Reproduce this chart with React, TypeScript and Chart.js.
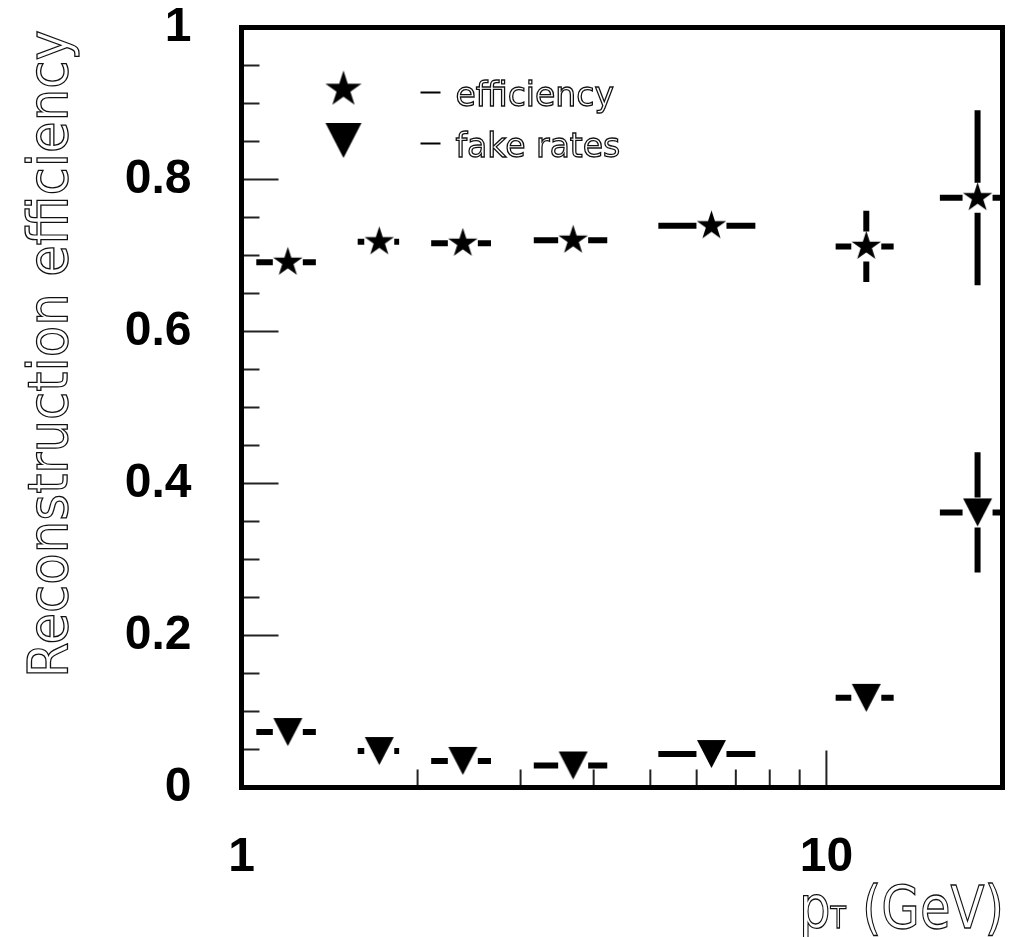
import React, { useEffect, useRef } from "react";
import { Chart, registerables } from "chart.js";

Chart.register(...registerables);

// ---- data ----
const ptCenters = [1.2, 1.72, 2.39, 3.69, 6.36, 11.7, 18.13];
const ptHalfWidths = [0.14, 0.14, 0.28, 0.53, 1.2, 1.33, 2.5];
const efficiency = [0.691, 0.718, 0.716, 0.72, 0.739, 0.712, 0.776];
const efficiencyErr = [0.01, 0.012, 0.012, 0.012, 0.015, 0.047, 0.115];
const fakeRates = [0.073, 0.048, 0.035, 0.029, 0.044, 0.118, 0.362];
const fakeRatesErr = [0.008, 0.007, 0.006, 0.006, 0.008, 0.015, 0.079];

const xLabelValues = [1, 10];
const xMinorTickValues = [2, 3, 4, 5, 6, 7, 8, 9];
const xMajorTickValues = [10];
const yLabelValues = [0, 0.2, 0.4, 0.6, 0.8, 1];
const yLabelTexts = ["0", "0.2", "0.4", "0.6", "0.8", "1"];
const yMinorTickValues = [
  0.05, 0.1, 0.15, 0.25, 0.3, 0.35, 0.45, 0.5, 0.55, 0.65, 0.7, 0.75, 0.85, 0.9, 0.95,
];
const legendLabels = ["efficiency", "fake rates"];
const yTitle = "Reconstruction efficiency";
const xTitleMain = "p";
const xTitleSub = "T";
const xTitleUnit = " (GeV)";

const TICK_FONT = "'Liberation Sans', Arial, Helvetica, sans-serif";
const TITLE_FONT = "'DejaVu Sans', Verdana, sans-serif";
const OUTLINE_COLOR = "#111";
const OUTLINE_WIDTH = 1.3;

function makeStar(R: number): HTMLCanvasElement {
  const size = Math.ceil(2 * R + 2);
  const c = document.createElement("canvas");
  c.width = size;
  c.height = size;
  const g = c.getContext("2d")!;
  const cx = size / 2;
  const cy = size / 2;
  const r = R * 0.382;
  g.beginPath();
  for (let k = 0; k < 10; k++) {
    const a = -Math.PI / 2 + (k * Math.PI) / 5;
    const rr = k % 2 === 0 ? R : r;
    g.lineTo(cx + rr * Math.cos(a), cy + rr * Math.sin(a));
  }
  g.closePath();
  g.fillStyle = "#000";
  g.fill();
  return c;
}

function makeTriangle(w: number, h: number): HTMLCanvasElement {
  const c = document.createElement("canvas");
  c.width = Math.ceil(w + 2);
  c.height = Math.ceil(h + 2);
  const g = c.getContext("2d")!;
  const ox = (c.width - w) / 2;
  const oy = (c.height - h) / 2;
  g.beginPath();
  g.moveTo(ox, oy);
  g.lineTo(ox + w, oy);
  g.lineTo(ox + w / 2, oy + h);
  g.closePath();
  g.fillStyle = "#000";
  g.fill();
  return c;
}

const GAP = 15;

const errorBarPlugin = {
  id: "errorBars",
  afterDatasetsDraw(chart: any) {
    const { ctx, chartArea: a } = chart;
    const x = chart.scales.x;
    const y = chart.scales.y;
    ctx.save();
    ctx.beginPath();
    ctx.rect(a.left, a.top, a.right - a.left, a.bottom - a.top);
    ctx.clip();
    ctx.strokeStyle = "#000";
    ctx.lineWidth = 6;
    ctx.lineCap = "butt";
    const seg = (x1: number, y1: number, x2: number, y2: number) => {
      ctx.beginPath();
      ctx.moveTo(x1, y1);
      ctx.lineTo(x2, y2);
      ctx.stroke();
    };
    chart.data.datasets.forEach((ds: any) => {
      ds.data.forEach((p: any, i: number) => {
        const px = x.getPixelForValue(p.x);
        const py = y.getPixelForValue(p.y);
        const xl = x.getPixelForValue(p.x - ds.xErr[i]);
        const xh = x.getPixelForValue(p.x + ds.xErr[i]);
        const yt = y.getPixelForValue(p.y + ds.yErr[i]);
        const yb = y.getPixelForValue(p.y - ds.yErr[i]);
        if (xl < px - GAP) seg(xl, py, px - GAP, py);
        if (xh > px + GAP) seg(px + GAP, py, xh, py);
        if (yt < py - GAP) seg(px, yt, px, py - GAP);
        if (yb > py + GAP) seg(px, py + GAP, px, yb);
      });
    });
    ctx.restore();
  },
};

const makeDecorPlugin = (legendIcons: HTMLCanvasElement[]) => ({
  id: "decor",
  afterDraw(chart: any) {
    const { ctx, chartArea: a } = chart;
    const x = chart.scales.x;
    const y = chart.scales.y;
    ctx.save();
    // inward ticks
    ctx.strokeStyle = "#222";
    ctx.lineWidth = 2;
    const hl = (yy: number, len: number) => {
      ctx.beginPath();
      ctx.moveTo(a.left, yy);
      ctx.lineTo(a.left + len, yy);
      ctx.stroke();
    };
    const vl = (xx: number, len: number) => {
      ctx.beginPath();
      ctx.moveTo(xx, a.bottom);
      ctx.lineTo(xx, a.bottom - len);
      ctx.stroke();
    };
    yMinorTickValues.forEach((v) => hl(y.getPixelForValue(v), 18));
    yLabelValues.forEach((v) => hl(y.getPixelForValue(v), 37));
    xMinorTickValues.forEach((v) => vl(x.getPixelForValue(v), 18));
    xMajorTickValues.forEach((v) => vl(x.getPixelForValue(v), 37));

    // frame
    ctx.strokeStyle = "#000";
    ctx.lineWidth = 5;
    ctx.lineJoin = "miter";
    ctx.strokeRect(a.left, a.top, a.right - a.left, a.bottom - a.top);

    // legend
    const lx = a.left + 102;
    const rows = [a.top + 62, a.top + 113];
    legendIcons.forEach((icon, i) => {
      ctx.drawImage(icon, lx - icon.width / 2, rows[i] - icon.height / 2);
    });
    const dashes = [a.top + 65, a.top + 116];
    ctx.strokeStyle = "#000";
    ctx.lineWidth = 2;
    dashes.forEach((dy) => {
      ctx.beginPath();
      ctx.moveTo(a.left + 179, dy);
      ctx.lineTo(a.left + 199, dy);
      ctx.stroke();
    });
    ctx.font = `33px ${TITLE_FONT}`;
    ctx.strokeStyle = OUTLINE_COLOR;
    ctx.lineWidth = OUTLINE_WIDTH;
    ctx.textAlign = "left";
    ctx.textBaseline = "alphabetic";
    const baselines = [a.top + 78, a.top + 129];
    legendLabels.forEach((t, i) => {
      ctx.strokeText(t, a.left + 214, baselines[i]);
    });

    // y title
    ctx.save();
    ctx.font = `55px ${TITLE_FONT}`;
    const wy = ctx.measureText(yTitle).width;
    const targetY = 648;
    ctx.translate(67, 354);
    ctx.rotate(-Math.PI / 2);
    ctx.scale(targetY / wy, 1);
    ctx.textAlign = "center";
    ctx.strokeStyle = OUTLINE_COLOR;
    ctx.lineWidth = OUTLINE_WIDTH;
    ctx.strokeText(yTitle, 0, 0);
    ctx.restore();

    // x title
    ctx.save();
    const mainFont = `59px ${TITLE_FONT}`;
    const subFont = `30px ${TITLE_FONT}`;
    ctx.font = mainFont;
    const wp = ctx.measureText(xTitleMain).width;
    const wu = ctx.measureText(xTitleUnit).width;
    ctx.font = subFont;
    const wt = ctx.measureText(xTitleSub).width;
    const total = wp + wt + wu;
    const targetX = 205;
    const sx = targetX / total;
    const right = 1004;
    const base = 928;
    ctx.translate(right - targetX, base);
    ctx.scale(sx, 1);
    ctx.strokeStyle = OUTLINE_COLOR;
    ctx.lineWidth = OUTLINE_WIDTH;
    ctx.textAlign = "left";
    ctx.font = mainFont;
    ctx.strokeText(xTitleMain, 0, 0);
    ctx.font = subFont;
    ctx.strokeText(xTitleSub, wp, 0);
    ctx.font = mainFont;
    ctx.strokeText(xTitleUnit, wp + wt, 0);
    ctx.restore();

    ctx.restore();
  },
});

export default function App() {
  const ref = useRef<HTMLCanvasElement | null>(null);
  useEffect(() => {
    const canvas = ref.current;
    if (!canvas) return;
    const star = makeStar(15.5);
    const tri = makeTriangle(29, 28);
    const legendStar = makeStar(19);
    const legendTri = makeTriangle(36, 35);
    const tickFont = { family: TICK_FONT, size: 48, weight: "bold" as const };
    const chart = new Chart(canvas, {
      type: "scatter",
      data: {
        datasets: [
          {
            label: legendLabels[0],
            data: ptCenters.map((xv, i) => ({ x: xv, y: efficiency[i] })),
            xErr: ptHalfWidths,
            yErr: efficiencyErr,
            pointStyle: star,
            pointRadius: 15,
            showLine: false,
          } as any,
          {
            label: legendLabels[1],
            data: ptCenters.map((xv, i) => ({ x: xv, y: fakeRates[i] })),
            xErr: ptHalfWidths,
            yErr: fakeRatesErr,
            pointStyle: tri,
            pointRadius: 15,
            showLine: false,
          } as any,
        ],
      },
      options: {
        responsive: false,
        animation: false,
        devicePixelRatio: 1,
        layout: { padding: { top: 27.5, right: 17.5, left: 0, bottom: 0 } },
        plugins: { legend: { display: false }, tooltip: { enabled: false } },
        scales: {
          x: {
            type: "logarithmic",
            min: 1,
            max: 20,
            grid: { display: false, drawTicks: false },
            border: { display: false },
            afterBuildTicks: (s: any) => {
              s.ticks = xLabelValues.map((v) => ({ value: v }));
            },
            afterFit: (s: any) => {
              s.height = 149.5;
              s.paddingLeft = 0;
              s.paddingRight = 0;
            },
            ticks: {
              autoSkip: false,
              maxRotation: 0,
              minRotation: 0,
              padding: 41,
              color: "#000",
              font: tickFont,
              callback: (v: any) => String(v),
            },
          },
          y: {
            type: "linear",
            min: 0,
            max: 1,
            grid: { display: false, drawTicks: false },
            border: { display: false },
            afterBuildTicks: (s: any) => {
              s.ticks = yLabelValues.map((v) => ({ value: v }));
            },
            afterFit: (s: any) => {
              s.width = 241.5;
              s.paddingTop = 0;
              s.paddingBottom = 0;
            },
            ticks: {
              autoSkip: false,
              padding: 50,
              color: "#000",
              font: tickFont,
              callback: (v: any, i: number) => yLabelTexts[i] ?? String(v),
            },
          },
        },
      } as any,
      plugins: [errorBarPlugin, makeDecorPlugin([legendStar, legendTri])],
    });
    return () => chart.destroy();
  }, []);
  return (
    <div style={{ position: "absolute", left: 0, top: 0, width: 1020, height: 937 }}>
      <canvas ref={ref} width={1020} height={937} style={{ display: "block", width: 1020, height: 937 }} />
    </div>
  );
}
